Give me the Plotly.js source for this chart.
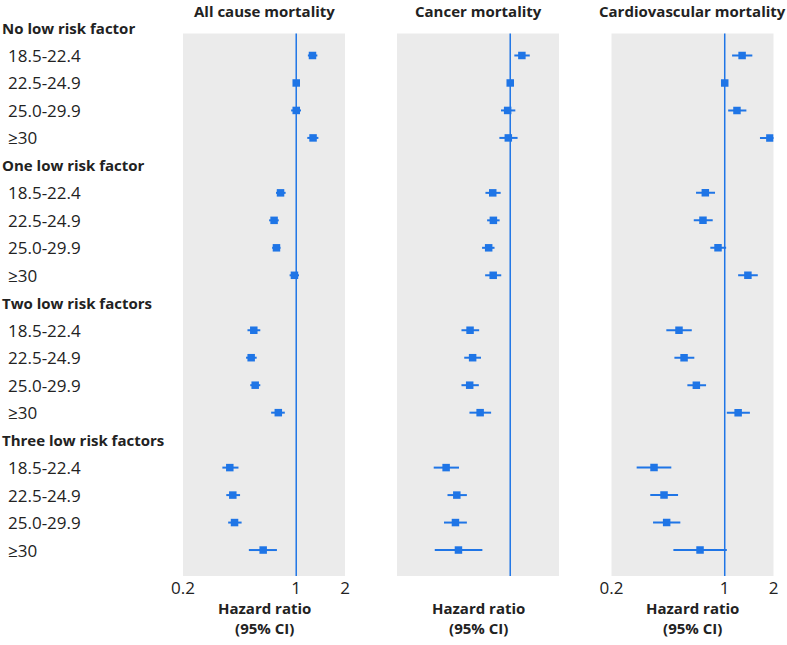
<!DOCTYPE html>
<html>
<head>
<meta charset="utf-8">
<script src="https://cdn.plot.ly/plotly-3.0.1.min.js"></script>
<style>html,body{margin:0;padding:0;background:#fff;}#chart{width:787px;height:645px;}</style>
</head>
<body>
<div id="chart"></div>
<script>
// ---- data ----
const groups = ["No low risk factor", "One low risk factor", "Two low risk factors", "Three low risk factors"];
const bmiBands = ["18.5-22.4", "22.5-24.9", "25.0-29.9", "≥30"];
const panelTitles = ["All cause mortality", "Cancer mortality", "Cardiovascular mortality"];
const tickVals = [0.2, 1, 2];
const tickText = ["0.2", "1", "2"];

const allCauseHR = [1.26, 1.00, 1.00, 1.27, 0.80, 0.73, 0.755, 0.975, 0.547, 0.527, 0.558, 0.775, 0.389, 0.406, 0.416, 0.625];
const allCauseLo = [1.18, 1.00, 0.93, 1.17, 0.75, 0.68, 0.71, 0.91, 0.50, 0.49, 0.52, 0.70, 0.35, 0.37, 0.38, 0.51];
const allCauseHi = [1.35, 1.00, 1.07, 1.37, 0.86, 0.78, 0.80, 1.04, 0.60, 0.57, 0.60, 0.85, 0.44, 0.45, 0.46, 0.76];

const cancerHR = [1.18, 1.00, 0.964, 0.973, 0.78, 0.787, 0.736, 0.785, 0.565, 0.586, 0.562, 0.652, 0.402, 0.468, 0.459, 0.479];
const cancerLo = [1.06, 1.00, 0.877, 0.857, 0.703, 0.72, 0.67, 0.70, 0.50, 0.52, 0.50, 0.56, 0.337, 0.41, 0.39, 0.342];
const cancerHi = [1.32, 1.00, 1.075, 1.11, 0.873, 0.86, 0.80, 0.88, 0.643, 0.66, 0.64, 0.762, 0.483, 0.54, 0.54, 0.673];

const cardioHR = [1.28, 1.00, 1.19, 1.90, 0.759, 0.734, 0.909, 1.39, 0.522, 0.561, 0.668, 1.21, 0.366, 0.422, 0.438, 0.704];
const cardioLo = [1.11, 1.00, 1.05, 1.65, 0.665, 0.644, 0.815, 1.21, 0.436, 0.489, 0.588, 1.03, 0.286, 0.347, 0.361, 0.482];
const cardioHi = [1.48, 1.00, 1.36, 2.05, 0.871, 0.843, 1.02, 1.60, 0.626, 0.649, 0.767, 1.43, 0.468, 0.515, 0.532, 1.03];

// ---- build ----
const BLUE = '#1f75e6';
const GREY = '#ebebeb';
const FONT = '"Open Sans", "Noto Sans", sans-serif';
const TXT = '#222';

const rows = [];
groups.forEach((g, gi) => bmiBands.forEach((b, bi) => rows.push(gi * 5 + 1 + bi)));
const yTop = 0.2, yBottom = 19.945;

const panels = [
  [allCauseHR, allCauseLo, allCauseHi],
  [cancerHR, cancerLo, cancerHi],
  [cardioHR, cardioLo, cardioHi]
];

const traces = [];
const shapes = [];
const annotations = [];
const layout = {
  width: 787, height: 645,
  margin: {l: 0, r: 0, t: 0, b: 0},
  paper_bgcolor: '#fff', plot_bgcolor: 'rgba(0,0,0,0)',
  showlegend: false,
  font: {family: FONT, size: 15, color: TXT}
};

const xDomains = [[183/787, 345/787], [397/787, 559/787], [611.5/787, 773.5/787]];
const yDomain = [1 - 576/645, 1 - 12.9/645];

panels.forEach((p, i) => {
  const [hr, lo, hi] = p;
  const sfx = i === 0 ? '' : String(i + 1);
  const xa = 'x' + sfx, ya = 'y' + sfx;
  // reference line at HR = 1
  traces.push({
    type: 'scatter', mode: 'lines', x: [1, 1], y: [yTop, yBottom],
    xaxis: xa, yaxis: ya, line: {color: BLUE, width: 1.5}, hoverinfo: 'skip'
  });
  traces.push({
    type: 'scatter', mode: 'markers', x: hr, y: rows,
    xaxis: xa, yaxis: ya,
    marker: {symbol: 'square', size: 7.5, color: BLUE},
    error_x: {type: 'data', symmetric: false,
      array: hr.map((v, k) => hi[k] - v),
      arrayminus: hr.map((v, k) => v - lo[k]),
      color: BLUE, thickness: 2, width: 0}
  });
  layout['xaxis' + sfx] = {
    domain: xDomains[i], anchor: ya, type: 'log',
    range: [Math.log10(0.2), Math.log10(2)],
    tickvals: tickVals, ticktext: tickText, showticklabels: i !== 1,
    showgrid: false, zeroline: false, showline: false, ticks: '',
    tickfont: {size: 17, color: TXT, family: FONT}
  };
  layout['yaxis' + sfx] = {
    domain: yDomain, anchor: xa, range: [yBottom, -0.55],
    visible: false, showgrid: false, zeroline: false
  };
  shapes.push({
    type: 'rect', xref: xa + ' domain', yref: ya, x0: 0, x1: 1, y0: yTop, y1: yBottom,
    fillcolor: GREY, line: {width: 0}, layer: 'below'
  });
  annotations.push({
    xref: xa + ' domain', yref: 'paper', x: 0.5, y: 1 - 11/645, yanchor: 'middle',
    text: '<b>' + panelTitles[i] + '</b>', showarrow: false,
    font: {size: 15, color: TXT, family: FONT}
  });
  annotations.push({
    xref: xa + ' domain', yref: 'paper', x: 0.5, y: 1 - 618/645, yanchor: 'middle',
    text: '<b>Hazard ratio<br>(95% CI)</b>', showarrow: false,
    font: {size: 15, color: TXT, family: FONT}
  });
});

// row labels
groups.forEach((g, gi) => {
  annotations.push({
    xref: 'paper', yref: 'y', x: 0, y: gi * 5, xanchor: 'left', yanchor: 'middle',
    text: '<b>' + g + '</b>', showarrow: false, font: {size: 15, color: TXT, family: FONT}
  });
  bmiBands.forEach((b, bi) => {
    annotations.push({
      xref: 'paper', yref: 'y', x: 6/787, y: gi * 5 + 1 + bi, xanchor: 'left', yanchor: 'middle',
      text: b, showarrow: false, font: {size: 17, color: TXT, family: FONT}
    });
  });
});

layout.shapes = shapes;
layout.annotations = annotations;

Plotly.newPlot('chart', traces, layout, {displayModeBar: false, staticPlot: true});
</script>
</body>
</html>
